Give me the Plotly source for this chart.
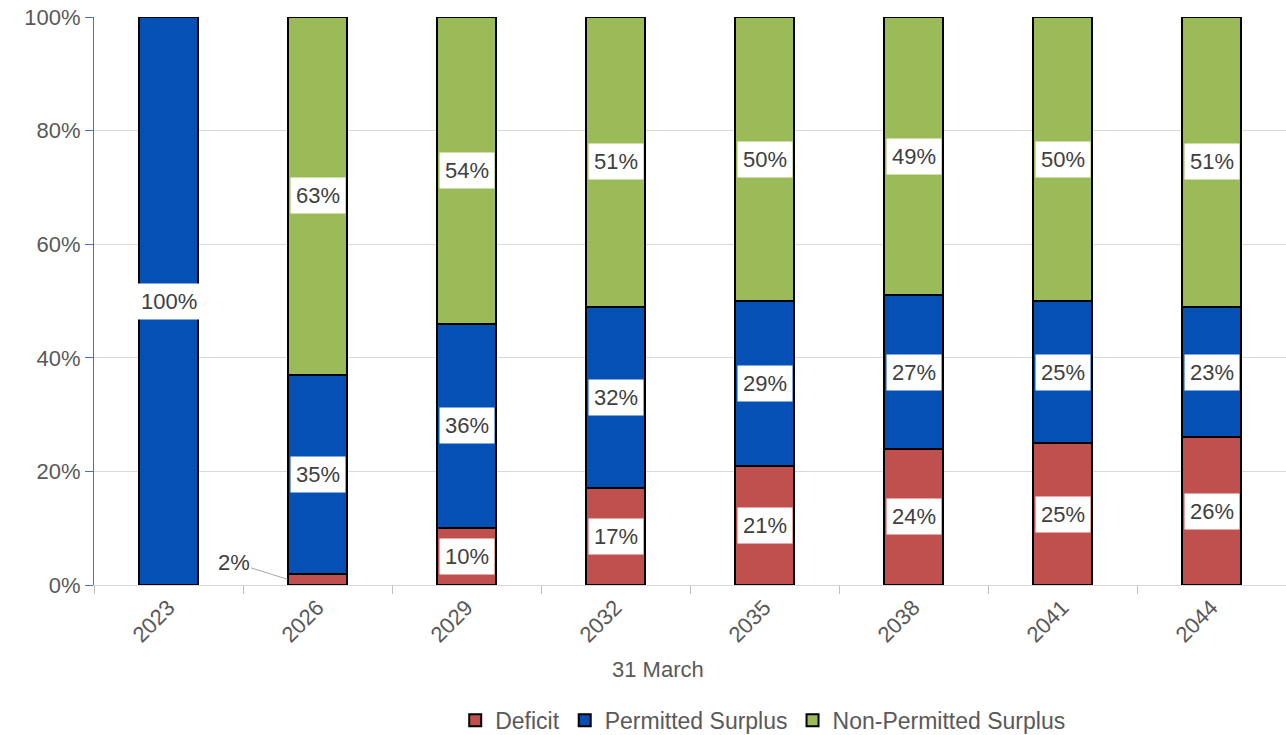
import plotly.graph_objects as go

years = ["2023", "2026", "2029", "2032", "2035", "2038", "2041", "2044"]
deficit = [0, 2, 10, 17, 21, 24, 25, 26]
permitted = [100, 35, 36, 32, 29, 27, 25, 23]
non_permitted = [0, 63, 54, 51, 50, 49, 50, 51]

series = [
    ("Deficit", deficit, "#C0504D"),
    ("Permitted Surplus", permitted, "#0550B5"),
    ("Non-Permitted Surplus", non_permitted, "#9BBB59"),
]

FONT = "Liberation Sans, Open Sans, sans-serif"
GRAY = "#595959"
LBL = "#404040"

fig = go.Figure()
for name, vals, col in series:
    fig.add_trace(go.Bar(
        x=years, y=vals, name=name, width=0.4,
        marker=dict(color=col, line=dict(color="black", width=2)),
    ))

annotations = []
base = [0] * len(years)
for name, vals, col in series:
    for i, v in enumerate(vals):
        if v > 0:
            mid = base[i] + v / 2
            if v >= 5:
                annotations.append(dict(
                    x=i, y=mid, xref="x", yref="y", text=f"{v}%", showarrow=False,
                    bgcolor="white", borderpad=5,
                    font=dict(size=22, color=LBL, family=FONT),
                ))
            else:
                annotations.append(dict(
                    x=i, y=mid, xref="x", yref="y", text=f"{v}%", showarrow=True,
                    arrowhead=0, arrowwidth=1, arrowcolor="#A6A6A6",
                    ax=-54, ay=-17, xshift=-30, standoff=0,
                    font=dict(size=22, color=LBL, family=FONT),
                ))
        base[i] += v

annotations.append(dict(
    xref="paper", yref="paper", x=0.473, y=-0.148, yanchor="middle",
    text="31 March", showarrow=False,
    font=dict(size=22, color=GRAY, family=FONT),
))

fig.update_layout(
    barmode="stack",
    width=1286, height=735,
    margin=dict(l=94, r=0, t=17, b=150),
    plot_bgcolor="white", paper_bgcolor="white",
    font=dict(family=FONT, color=GRAY, size=22),
    annotations=annotations,
    legend=dict(
        orientation="h", x=0.561, xanchor="center",
        yref="container", y=0.02, yanchor="middle",
        font=dict(size=23, color=GRAY, family=FONT), traceorder="normal",
        itemwidth=30,
    ),
    xaxis=dict(
        type="category", tickangle=-45, tickson="boundaries",
        ticks="outside", ticklen=8, tickcolor="#BFBFBF",
        showline=True, linecolor="#D9D9D9", linewidth=1,
        tickfont=dict(size=22, color=GRAY, family=FONT),
        range=[-0.5, 7.5], automargin=False,
    ),
    yaxis=dict(
        range=[0, 100], tickvals=[0, 20, 40, 60, 80, 100],
        ticktext=["0%", "20%", "40%", "60%", "80%", "100%"],
        showgrid=True, gridcolor="#D9D9D9", gridwidth=1,
        showline=True, linecolor="#4472C4", linewidth=1,
        ticks="outside", ticklen=8, tickcolor="#4472C4",
        tickfont=dict(size=22, color=GRAY, family=FONT),
        zeroline=False, automargin=False,
    ),
)

fig.write_html("out.html")
